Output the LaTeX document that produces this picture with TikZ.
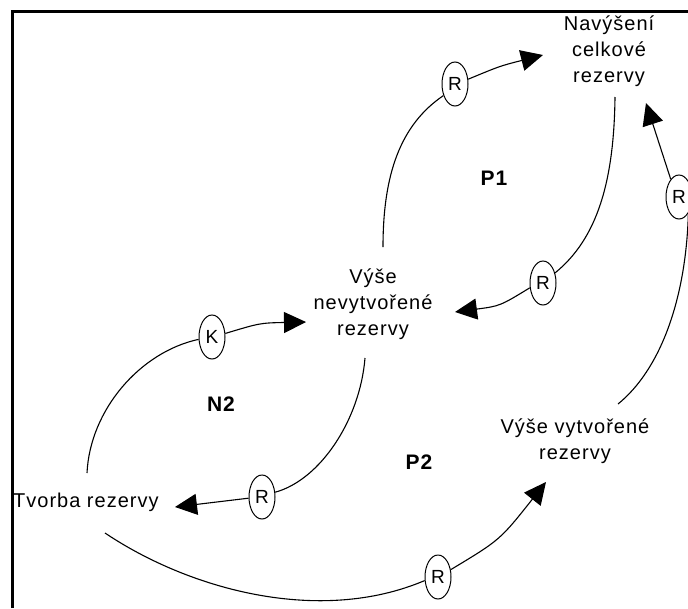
\documentclass[tikz,border=0pt]{standalone}
\usepackage{fontspec}
\setmainfont{Liberation Sans}[LetterSpace=5]
\usetikzlibrary{shapes.geometric,arrows.meta}
\begin{document}
\begin{tikzpicture}[x=1pt,y=-1pt,
  txt/.style={align=center,inner sep=0pt,font=\fontsize{20}{26}\selectfont},
  lbl/.style={inner sep=0pt,font=\fontsize{21}{24}\selectfont\bfseries},
  oval/.style={draw,ellipse,line width=1pt,minimum width=26pt,minimum height=44pt,inner sep=0pt,font=\fontsize{19}{20}\selectfont},
  link/.style={line width=1.1pt},
  arr/.style={line width=1.1pt,-{Triangle[length=22pt,width=21pt]}}]
\useasboundingbox (0,0) rectangle (688,608);
\draw[line width=3pt] (12,608) -- (12,11) -- (688,11);
% texts
\node[txt] (nav) at (609,51) {Navýšení\\celkové\\rezervy};
\node[txt] (vnr) at (373,304) {Výše\\nevytvořené\\rezervy};
\node[txt] (vvr) at (575,441) {Výše vytvořené\\rezervy};
\node[txt,anchor=west] (tvr) at (13,502) {Tvorba rezervy};
\node[lbl] (p1) at (494,178) {P1};
\node[lbl] (n2) at (221,404) {N2};
\node[lbl] (p2) at (419,462) {P2};
% ovals
\node[oval] (r1) at (455,84) {R};
\node[oval] (r2) at (543,283) {R};
\node[oval] (r3) at (679,197) {R};
\node[oval] (k) at (212,337) {K};
\node[oval] (r4) at (262,497) {R};
\node[oval] (r5) at (438,577) {R};
% free ends
\coordinate (c1) at (383,247);
\coordinate (a1) at (543,55);
\coordinate (c2) at (615,97);
\coordinate (a2) at (455,312);
\coordinate (a3) at (646,103);
\coordinate (c3) at (618,404);
\coordinate (a4) at (306,322);
\coordinate (c4) at (87,473);
\coordinate (c5) at (365,358);
\coordinate (a5) at (175,507);
\coordinate (c6) at (105,533);
\coordinate (a6) at (546,482);
% connectors
\draw[link] (c1) .. controls (383,175) and (400,125) .. (r1.225);
\draw[arr] (r1.20) .. controls (500,66) .. (a1);
\draw[link] (c2) .. controls (614,180) and (598,238) .. (r2.40);
\draw[arr] (r2.200) .. controls (500,306) .. (a2);
\draw[arr] (r3.115) -- (a3);
\draw[link] (r3.300) .. controls (686,300) and (660,370) .. (c3);
\draw[arr] (k.15) .. controls (260,323) .. (a4);
\draw[link] (k.190) .. controls (140,352) and (90,410) .. (c4);
\draw[link] (c5) .. controls (360,420) and (320,480) .. (r4.20);
\draw[arr] (r4.185) -- (a5);
\draw[link] (c6) .. controls (190,590) and (320,625) .. (r5.195);
\draw[arr] (r5.30) .. controls (500,540) .. (a6);
\end{tikzpicture}
\end{document}
